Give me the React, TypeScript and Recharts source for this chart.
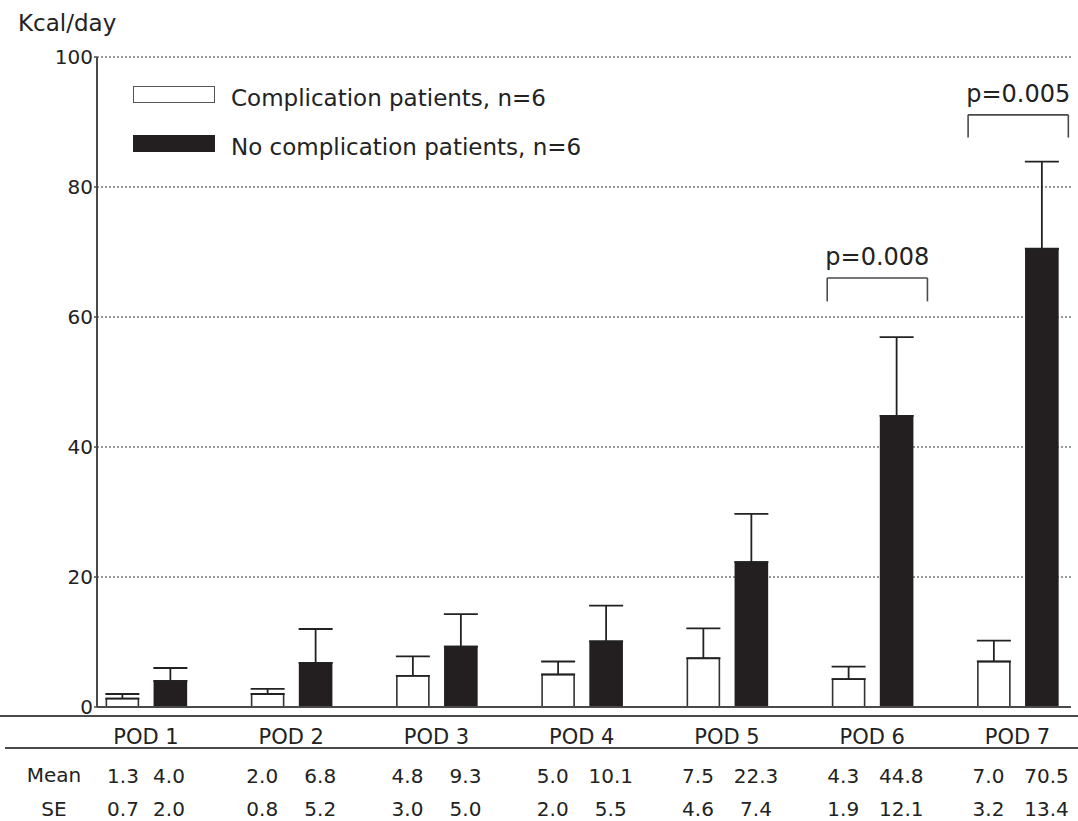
import { BarChart, Bar, XAxis, YAxis, CartesianGrid, ErrorBar, ReferenceLine } from "recharts";

// POD numbers used on the (numeric) x axis
const pods = [1, 2, 3, 4, 5, 6, 7];
const seriesNames = ["Complication patients, n=6", "No complication patients, n=6"];
const compMean = [1.3, 2.0, 4.8, 5.0, 7.5, 4.3, 7.0];
const compSE = [0.7, 0.8, 3.0, 2.0, 4.6, 1.9, 3.2];
const noCompMean = [4.0, 6.8, 9.3, 10.1, 22.3, 44.8, 70.5];
const noCompSE = [2.0, 5.2, 5.0, 5.5, 7.4, 12.1, 13.4];
const yTicks = [0, 20, 40, 60, 80, 100];

// significance brackets: x range in POD units, y in kcal/day
const pBrackets = [
  { text: "p=0.008", x0: 5.69, x1: 6.38, top: 66, bottom: 62.4 },
  { text: "p=0.005", x0: 6.66, x1: 7.35, top: 91.1, bottom: 87.6 },
];

const data = pods.map((pod, i) => ({
  pod,
  comp: compMean[i],
  noComp: noCompMean[i],
  compErr: [0, compSE[i]],
  noCompErr: [0, noCompSE[i]],
}));

const ink = "#222";
const line = "#4a4a4a";

const PodTick = (props: any) => {
  const { x, y, payload } = props;
  const i = payload.value - 1;
  const d = i === 0 ? 23 : 29;
  return (
    <g fill={ink}>
      <text x={x} y={y + 37} textAnchor="middle" fontSize={21} fill={ink}>
        {`POD ${payload.value}`}
      </text>
      <text x={x - d} y={y + 76} textAnchor="middle" fontSize={20} fill={ink}>
        {compMean[i].toFixed(1)}
      </text>
      <text x={x + d} y={y + 76} textAnchor="middle" fontSize={20} fill={ink}>
        {noCompMean[i].toFixed(1)}
      </text>
      <text x={x - d} y={y + 109} textAnchor="middle" fontSize={20} fill={ink}>
        {compSE[i].toFixed(1)}
      </text>
      <text x={x + d} y={y + 109} textAnchor="middle" fontSize={20} fill={ink}>
        {noCompSE[i].toFixed(1)}
      </text>
    </g>
  );
};

const App = () => {
  return (
    <div
      style={{
        position: "fixed",
        left: 0,
        top: 0,
        width: 1078,
        height: 821,
        background: "#fff",
        fontFamily: "'DejaVu Sans', sans-serif",
        color: ink,
        overflow: "hidden",
      }}
    >
      <BarChart
        width={1078}
        height={821}
        data={data}
        margin={{ top: 57, right: 7, left: 0, bottom: 0 }}
        barSize={32}
        barGap={16}
      >
        <CartesianGrid vertical={false} stroke="#777" strokeDasharray="2 2" strokeWidth={1.3} />
        <XAxis
          dataKey="pod"
          type="number"
          domain={[0.6627, 7.3684]}
          ticks={pods}
          height={114}
          tickSize={0}
          tickMargin={0}
          tickLine={false}
          axisLine={{ stroke: line, strokeWidth: 2 }}
          tick={<PodTick />}
          interval={0}
        />
        <YAxis
          domain={[0, 100]}
          ticks={yTicks}
          width={97}
          tickSize={3}
          tickMargin={1}
          axisLine={{ stroke: line, strokeWidth: 2 }}
          tickLine={{ stroke: line, strokeWidth: 1.5 }}
          tick={{ fontSize: 20, fill: ink }}
        />
        <Bar dataKey="comp" name={seriesNames[0]} fill="#fff" stroke="#333" strokeWidth={1.6} isAnimationActive={false}>
          <ErrorBar dataKey="compErr" width={17} stroke={ink} strokeWidth={1.8} direction="y" isAnimationActive={false} />
        </Bar>
        <Bar dataKey="noComp" name={seriesNames[1]} fill="#231f20" stroke="#231f20" strokeWidth={1.6} isAnimationActive={false}>
          <ErrorBar dataKey="noCompErr" width={17} stroke={ink} strokeWidth={1.8} direction="y" isAnimationActive={false} />
        </Bar>
        {pBrackets.map((b) => (
          <ReferenceLine
            key={b.text + "l"}
            segment={[{ x: b.x0, y: b.bottom }, { x: b.x0, y: b.top }]}
            stroke={line}
            strokeWidth={1.6}
          />
        ))}
        {pBrackets.map((b) => (
          <ReferenceLine
            key={b.text + "r"}
            segment={[{ x: b.x1, y: b.bottom }, { x: b.x1, y: b.top }]}
            stroke={line}
            strokeWidth={1.6}
          />
        ))}
        {pBrackets.map((b) => (
          <ReferenceLine
            key={b.text + "t"}
            segment={[{ x: b.x0, y: b.top }, { x: b.x1, y: b.top }]}
            stroke={line}
            strokeWidth={1.6}
            label={{ value: b.text, position: "top", offset: 13, fontSize: 24, fill: ink }}
          />
        ))}
      </BarChart>

      {/* axis title */}
      <div style={{ position: "absolute", left: 18, top: 10, fontSize: 23, lineHeight: "27px" }}>Kcal/day</div>

      {/* legend */}
      <div
        style={{
          position: "absolute",
          left: 133,
          top: 86,
          width: 82,
          height: 17,
          boxSizing: "border-box",
          border: "1.5px solid #555",
          background: "#fff",
        }}
      />
      <div style={{ position: "absolute", left: 231, top: 85, fontSize: 23, lineHeight: "27px", whiteSpace: "nowrap" }}>
        {seriesNames[0]}
      </div>
      <div
        style={{
          position: "absolute",
          left: 133,
          top: 135,
          width: 82,
          height: 17,
          background: "#231f20",
        }}
      />
      <div style={{ position: "absolute", left: 231, top: 134, fontSize: 23, lineHeight: "27px", whiteSpace: "nowrap" }}>
        {seriesNames[1]}
      </div>

      {/* table rules and row labels */}
      <div style={{ position: "absolute", left: 0, top: 715, width: 1078, height: 2, background: line }} />
      <div style={{ position: "absolute", left: 5, top: 747, width: 1073, height: 2, background: line }} />
      <div style={{ position: "absolute", left: 14, width: 80, top: 764, fontSize: 20, lineHeight: "23px", textAlign: "center" }}>
        Mean
      </div>
      <div style={{ position: "absolute", left: 14, width: 80, top: 798, fontSize: 20, lineHeight: "23px", textAlign: "center" }}>
        SE
      </div>
    </div>
  );
};

export default App;
